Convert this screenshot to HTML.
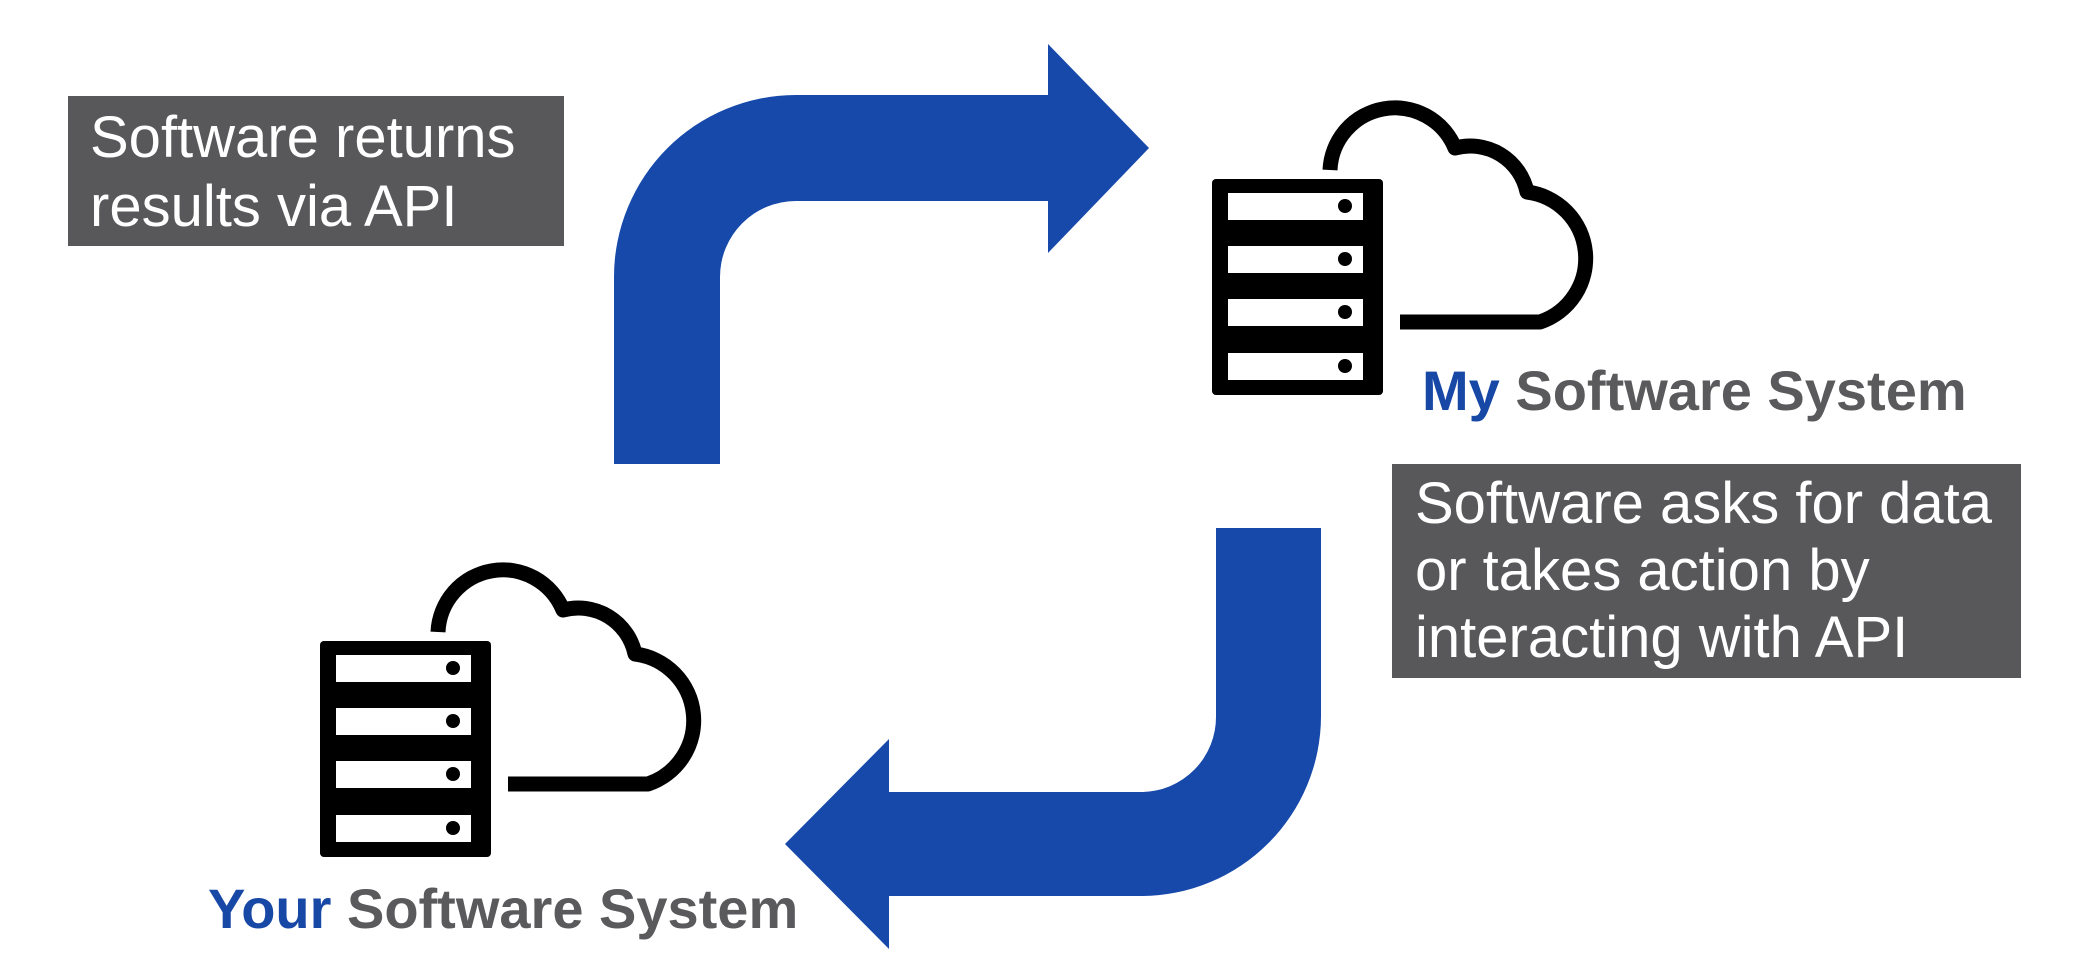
<!DOCTYPE html>
<html><head><style>
html,body{margin:0;padding:0;background:#fff;}
body{width:2080px;height:976px;position:relative;overflow:hidden;font-family:"Liberation Sans",sans-serif;}
.box{position:absolute;background:#58585b;color:#fff;font-size:58px;line-height:67px;white-space:nowrap;}
.lbl{position:absolute;font-weight:bold;font-size:56px;color:#5a5a5d;white-space:nowrap;}
.lbl b{color:#1748a6;}
</style></head><body>
<svg width="2080" height="976" style="position:absolute;left:0;top:0">
<g fill="#1649aa">
<path d="M614 464 L614 277 A182 182 0 0 1 796 95 L1048 95 L1048 44 L1149 148 L1048 253 L1048 201 L796 201 A76 76 0 0 0 720 277 L720 464 Z"/>
<path d="M1321 528 L1321 716 A180 180 0 0 1 1141 896 L889 896 L889 949 L785 844 L889 739 L889 792 L1141 792 A75 75 0 0 0 1216 716 L1216 528 Z"/>
</g>
<g id="srv">
<path d="M1330 170 A65 65 0 0 1 1455 148 A58 58 0 0 1 1527 192 A67 67 0 0 1 1540 322 L1400 322" fill="none" stroke="#000" stroke-width="15" stroke-linejoin="round"/>
<rect x="1212" y="179" width="171" height="216" rx="4" fill="#000"/>
<g fill="#fff"><rect x="1228" y="193" width="135" height="27"/><rect x="1228" y="246" width="135" height="27"/><rect x="1228" y="299" width="135" height="27"/><rect x="1228" y="353" width="135" height="27"/></g>
<g fill="#000"><circle cx="1345" cy="206" r="7"/><circle cx="1345" cy="259" r="7"/><circle cx="1345" cy="312" r="7"/><circle cx="1345" cy="366" r="7"/></g>
</g>
<use href="#srv" transform="translate(-892,462)"/>
</svg>
<div class="box" style="left:68px;top:96px;width:496px;height:150px;padding:7px 0 0 22px;box-sizing:border-box;line-height:69px;">Software returns<br>results via API</div>
<div class="box" style="left:1392px;top:464px;width:629px;height:214px;padding:6px 0 0 23px;box-sizing:border-box;">Software asks for data<br>or takes action by<br>interacting with API</div>
<div class="lbl" style="left:1422px;top:358px;"><b>My</b> Software System</div>
<div class="lbl" style="left:208px;top:876px;"><b>Your</b> Software System</div>
</body></html>
